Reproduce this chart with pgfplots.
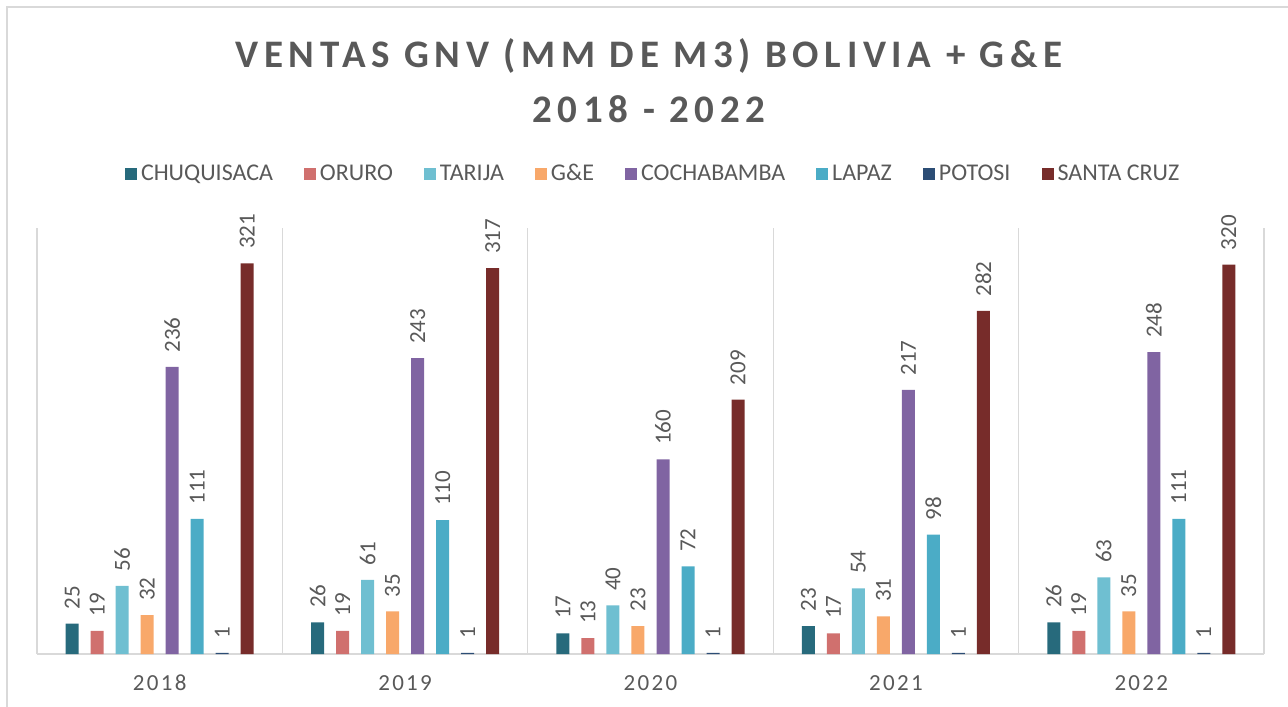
\documentclass[border=0pt]{standalone}
\usepackage{fontspec}
\setmainfont{Carlito}
\newfontfamily\spaced[LetterSpace=10]{Carlito}
\newfontfamily\titlefont[LetterSpace=14.5]{Carlito}
\usepackage{pgfplots}
\pgfplotsset{compat=1.18}
\definecolor{txt}{HTML}{595959}
\definecolor{sep}{HTML}{D9D9D9}
\definecolor{cChuq}{HTML}{276A7C}
\definecolor{cOruro}{HTML}{D0706E}
\definecolor{cTarija}{HTML}{6FBFD1}
\definecolor{cGE}{HTML}{F8A86A}
\definecolor{cCocha}{HTML}{8064A2}
\definecolor{cLapaz}{HTML}{4BACC6}
\definecolor{cPotosi}{HTML}{2C4D75}
\definecolor{cSanta}{HTML}{772C2A}
\pgfplotsset{
  mybar/.style={fill=#1, draw=none, bar width=0.053,
    legend image code/.code={\path[fill=#1] (0pt,-3pt) rectangle (6pt,3pt);}},
}
\begin{document}
\begin{tikzpicture}
\useasboundingbox (0,0) rectangle (644pt,-353pt);
\draw[sep, line width=1pt] (3.5pt,-360pt) -- (3.5pt,-3.75pt) -- (660pt,-3.75pt);
\node[anchor=base, text=txt, font=\titlefont\bfseries\fontsize{19.5}{22}\selectfont] at (324.5pt,-34pt) {VENTAS GNV (MM DE M3) BOLIVIA + G\&E};
\node[anchor=base, text=txt, font=\titlefont\bfseries\fontsize{19.5}{22}\selectfont] at (324.5pt,-61pt) {2018 - 2022};
\begin{axis}[
  anchor=south west, at={(18.5pt,-327pt)},
  width=613.5pt, height=213pt, scale only axis,
  ybar, clip=false,
  xmin=-0.5, xmax=4.5, ymin=0, ymax=350,
  axis y line=none, axis x line=bottom,
  axis line style={sep, line width=0.75pt, -},
  xtick={0,1,2,3,4},
  xticklabels={2018,2019,2020,2021,2022},
  major tick length=0pt, minor tick length=0pt,
  minor xtick={-0.5,0.5,1.5,2.5,3.5,4.5},
  xminorgrids, minor grid style={sep, line width=0.6pt},
  xticklabel style={anchor=base, yshift=-18pt, text=txt, font=\spaced\fontsize{11.5}{13}\selectfont},
  nodes near coords,
  nodes near coords style={rotate=90, anchor=west, inner xsep=7pt, inner ysep=0pt, text=txt, font=\fontsize{11.5}{13}\selectfont},
  /pgf/number format/assume math mode=true,
  legend columns=8,
  legend style={draw=none, fill=none, at={(0.503,1.127)}, anchor=center, text=txt,
    font=\fontsize{12}{14}\selectfont,
    /tikz/every even column/.append style={column sep=13.5pt}},
]
\addplot[mybar=cChuq, bar shift=-0.3567] coordinates {(0,25) (1,26) (2,17) (3,23) (4,26)};
\addlegendentry{CHUQUISACA}
\addplot[mybar=cOruro, bar shift=-0.2548] coordinates {(0,19) (1,19) (2,13) (3,17) (4,19)};
\addlegendentry{ORURO}
\addplot[mybar=cTarija, bar shift=-0.1529] coordinates {(0,56) (1,61) (2,40) (3,54) (4,63)};
\addlegendentry{TARIJA}
\addplot[mybar=cGE, bar shift=-0.0510] coordinates {(0,32) (1,35) (2,23) (3,31) (4,35)};
\addlegendentry{G\&E}
\addplot[mybar=cCocha, bar shift=0.0510] coordinates {(0,236) (1,243) (2,160) (3,217) (4,248)};
\addlegendentry{COCHABAMBA}
\addplot[mybar=cLapaz, bar shift=0.1529] coordinates {(0,111) (1,110) (2,72) (3,98) (4,111)};
\addlegendentry{LAPAZ}
\addplot[mybar=cPotosi, bar shift=0.2548] coordinates {(0,1) (1,1) (2,1) (3,1) (4,1)};
\addlegendentry{POTOSI}
\addplot[mybar=cSanta, bar shift=0.3567] coordinates {(0,321) (1,317) (2,209) (3,282) (4,320)};
\addlegendentry{SANTA CRUZ}
\end{axis}
\end{tikzpicture}
\end{document}
